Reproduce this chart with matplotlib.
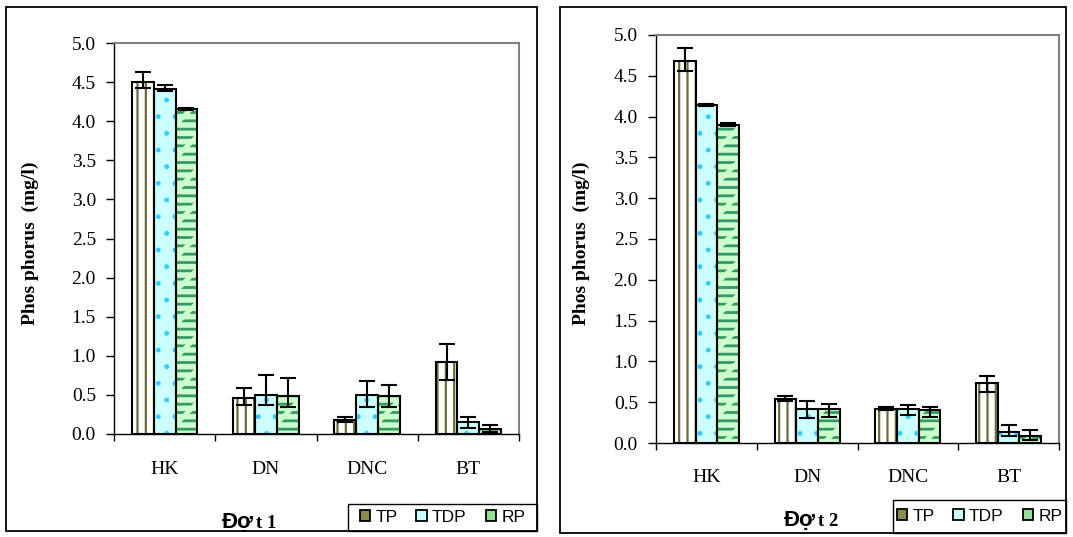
import numpy as np
import matplotlib
matplotlib.use("Agg")
import matplotlib.pyplot as plt
from matplotlib.patches import Rectangle, Patch

# Donnees
sites = ["HK", "DN", "DNC", "BT"]
series = ["TP", "TDP", "RP"]

# Dot 1
d1_tp = [4.50, 0.46, 0.18, 0.92]
d1_tp_hi = [0.13, 0.13, 0.04, 0.23]
d1_tp_lo = [0.08, 0.09, 0.03, 0.23]
d1_tdp = [4.41, 0.50, 0.50, 0.15]
d1_tdp_hi = [0.05, 0.26, 0.18, 0.07]
d1_tdp_lo = [0.02, 0.13, 0.15, 0.07]
d1_rp = [4.15, 0.48, 0.48, 0.07]
d1_rp_hi = [0.02, 0.23, 0.15, 0.04]
d1_rp_lo = [0.01, 0.13, 0.13, 0.04]

# Dot 2
d2_tp = [4.68, 0.54, 0.42, 0.74]
d2_tp_hi = [0.16, 0.04, 0.02, 0.08]
d2_tp_lo = [0.12, 0.03, 0.01, 0.12]
d2_tdp = [4.14, 0.42, 0.42, 0.14]
d2_tdp_hi = [0.02, 0.10, 0.04, 0.08]
d2_tdp_lo = [0.01, 0.11, 0.08, 0.06]
d2_rp = [3.90, 0.42, 0.40, 0.08]
d2_rp_hi = [0.02, 0.06, 0.04, 0.075]
d2_rp_lo = [0.015, 0.10, 0.08, 0.04]

yticks = np.arange(0, 5.01, 0.5)

# Styles
fills = ["white", "#ccffff", "#ccffcc"]
hatch_cols = ["#6b6b3a", "#33ccff", "#339966"]
hatches = ["||", ".", "--"]
hatch_lw = [1.6, 1.1, 2.0]

serif = "Liberation Serif"
sans = "Liberation Sans"

W, H = 1073, 537
fig = plt.figure(figsize=(W / 100, H / 100), dpi=100)


def fx(px):
    return px / W


def fy(py):
    return 1 - py / H


def hatched_bar(ax, xs, vals, w, fill, col, hatch, lw, z):
    with plt.rc_context({"hatch.linewidth": lw}):
        bars = ax.bar(xs, vals, w, color=fill, edgecolor=col, hatch=hatch,
                      linewidth=0, zorder=z)
    for p in bars:
        if hasattr(p, "set_hatch_linewidth"):
            p.set_hatch_linewidth(lw)
    return bars


def panel(rect, data, title_num, ylab_pos, cat_y, title_x, title_y, leg_box, border):
    l, t, r, b = rect
    ax = fig.add_axes([fx(l), fy(b), fx(r - l), (b - t) / H])
    x = np.arange(len(sites))
    w = 0.215
    for i, (vals, hi, lo) in enumerate(data):
        xs = x + (i - 1) * w
        hatched_bar(ax, xs, vals, w, fills[i], hatch_cols[i], hatches[i], hatch_lw[i], 2)
        if i == 2:
            # couper les lignes en tirets decales
            hatched_bar(ax, xs, vals, w, "none", fills[i], "/", 3.4, 2.5)
        ax.bar(xs, vals, w, fill=False, edgecolor="black", linewidth=1.5, zorder=3)
        ax.errorbar(xs, vals, yerr=[lo, hi], fmt="none", ecolor="black",
                    elinewidth=1.5, capsize=5.5, capthick=1.5, zorder=4)
    ax.set_xlim(-0.5, 3.5)
    ax.set_ylim(0, 5)
    ax.set_yticks(yticks)
    ax.set_yticklabels([f"{v:.1f}" for v in yticks], fontfamily=serif, fontsize=14)
    ax.set_xticks(np.arange(-0.5, 3.6, 1))
    ax.set_xticklabels([])
    ax.tick_params(axis="y", direction="out", length=6, width=1, pad=7)
    ax.tick_params(axis="x", direction="out", length=5, width=1)
    for s in ["top", "right"]:
        ax.spines[s].set_color("#808080")
        ax.spines[s].set_linewidth(1.5)
    for s in ["left", "bottom"]:
        ax.spines[s].set_color("black")
        ax.spines[s].set_linewidth(1)
    for i, s in enumerate(sites):
        ax.text(i, -(cat_y - b) / (b - t), s, transform=ax.get_xaxis_transform(),
                fontfamily=serif, fontsize=14, ha="center", va="center")
    fig.text(fx(ylab_pos[0]), fy(ylab_pos[1]), "Phos phorus  (mg/l)", rotation=90,
             fontfamily=serif, fontweight="bold", fontsize=14, ha="center", va="center")
    fig.text(fx(title_x - 1), fy(title_y), "Đợ", fontfamily=sans, fontweight="bold",
             fontsize=16, ha="right", va="center")
    fig.text(fx(title_x + 1), fy(title_y + 1), title_num, fontfamily=serif,
             fontweight="bold", fontsize=13.5, ha="left", va="center")
    bl, bt, br, bb = border
    fig.add_artist(Rectangle((fx(bl), fy(bb)), fx(br - bl), (bb - bt) / H,
                             transform=fig.transFigure, fill=False,
                             edgecolor="black", linewidth=1.3))
    handles = [Patch(facecolor=c, edgecolor="black", linewidth=1.3)
               for c in ["#8a8a50", "#ccffff", "#99dd99"]]
    ll, lt, lr, lb = leg_box
    fig.legend(handles, series, loc="center",
               bbox_to_anchor=(fx((ll + lr) / 2), fy((lt + lb) / 2)),
               ncol=3, frameon=False, prop={"family": sans, "size": 12.5},
               handlelength=0.6, handleheight=0.6, handletextpad=0.3,
               columnspacing=1.1)
    fig.add_artist(Rectangle((fx(ll), fy(lb)), fx(lr - ll), (lb - lt) / H,
                             transform=fig.transFigure, facecolor="white",
                             edgecolor="black", linewidth=1.0, zorder=-1))
    return ax


panel((114, 43, 519, 434),
      [(d1_tp, d1_tp_hi, d1_tp_lo), (d1_tdp, d1_tdp_hi, d1_tdp_lo), (d1_rp, d1_rp_hi, d1_rp_lo)],
      "t 1", (30, 243), 470, 255, 522, (348, 504, 537, 531), (6, 7, 537, 531))

panel((656, 35, 1059, 443),
      [(d2_tp, d2_tp_hi, d2_tp_lo), (d2_tdp, d2_tdp_hi, d2_tdp_lo), (d2_rp, d2_rp_hi, d2_rp_lo)],
      "t 2", (581, 243), 477, 817, 521, (893, 500, 1066, 533), (560, 7, 1066, 533))

fig.savefig("out.png", dpi=100)
